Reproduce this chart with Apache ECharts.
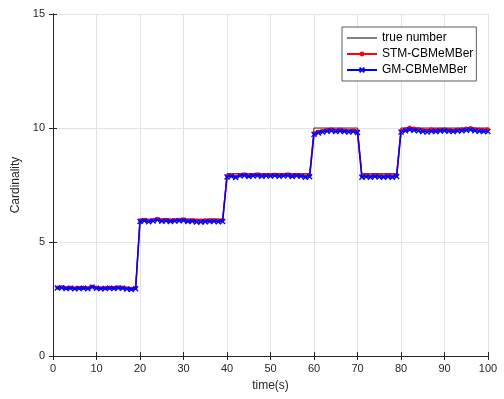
<!DOCTYPE html>
<html><head><meta charset="utf-8">
<script src="https://cdn.jsdelivr.net/npm/echarts@6/dist/echarts.min.js"></script>
<style>html,body{margin:0;padding:0;background:#fff}#c{width:504px;height:399px}</style>
</head><body><div id="c"></div>
<script>
const timeSteps = Array.from({length:100},(_,i)=>i+1);
const trueNumber = [
 3,3,3,3,3,3,3,3,3,3,3,3,3,3,3,3,3,3,3,
 6,6,6,6,6,6,6,6,6,6,6,6,6,6,6,6,6,6,6,6,
 8,8,8,8,8,8,8,8,8,8,8,8,8,8,8,8,8,8,8,8,
 10,10,10,10,10,10,10,10,10,10,10,
 8,8,8,8,8,8,8,8,8,
 10,10,10,10,10,10,10,10,10,10,10,10,10,10,10,10,10,10,10,10,10];
const stmCBMeMBer = [
 3.0,3.02,2.98,3.0,2.97,2.99,3.0,2.98,3.05,3.0,2.97,2.98,3.0,2.99,3.01,3.0,2.97,2.95,2.98,
 5.95,5.98,5.93,5.97,6.02,5.96,5.98,5.95,5.97,5.98,6.0,5.95,5.96,5.94,5.93,5.95,5.97,5.96,5.95,5.96,
 7.9,7.93,7.88,7.95,7.97,7.92,7.95,7.97,7.93,7.95,7.94,7.96,7.93,7.95,7.97,7.92,7.95,7.93,7.9,7.92,
 9.78,9.85,9.88,9.92,9.95,9.9,9.93,9.9,9.88,9.9,9.87,
 7.9,7.92,7.9,7.93,7.91,7.9,7.92,7.9,7.93,
 9.88,9.95,10.02,9.98,9.96,9.92,9.9,9.94,9.92,9.93,9.95,9.92,9.9,9.93,9.94,9.98,10.0,9.95,9.93,9.92,9.94];
const gmCBMeMBer = [
 2.98,2.99,2.96,2.97,2.95,2.96,2.97,2.95,3.02,2.97,2.95,2.96,2.97,2.96,2.98,2.97,2.94,2.92,2.95,
 5.9,5.93,5.89,5.92,5.96,5.91,5.93,5.9,5.92,5.93,5.94,5.9,5.91,5.88,5.87,5.89,5.9,5.91,5.89,5.9,
 7.85,7.88,7.83,7.9,7.92,7.87,7.9,7.92,7.88,7.9,7.89,7.91,7.88,7.9,7.92,7.87,7.9,7.88,7.84,7.86,
 9.72,9.78,9.82,9.86,9.88,9.84,9.87,9.85,9.82,9.84,9.8,
 7.84,7.86,7.84,7.87,7.85,7.84,7.86,7.84,7.87,
 9.82,9.88,9.92,9.9,9.88,9.85,9.82,9.86,9.85,9.87,9.88,9.86,9.84,9.87,9.88,9.9,9.92,9.88,9.86,9.85,9.84];
const seriesNames = ['true number','STM-CBMeMBer','GM-CBMeMBer'];

const pair = arr => timeSteps.map((t,i)=>[t,arr[i]]);
const font = 'Liberation Sans, Arial, sans-serif';
const axColor = '#262626';
const chart = echarts.init(document.getElementById('c'), null, {renderer:'canvas'});
const xBase = {type:'value',min:0,max:100,interval:10,
  axisLine:{lineStyle:{color:axColor,width:1}},
  axisTick:{inside:true,length:4,lineStyle:{color:axColor}}};
const yBase = {type:'value',min:0,max:15,interval:5,
  axisLine:{lineStyle:{color:axColor,width:1}},
  axisTick:{inside:true,length:4,lineStyle:{color:axColor}}};
chart.setOption({
  animation:false,
  backgroundColor:'#fff',
  grid:{left:53,right:16,top:14,bottom:43,containLabel:false},
  legend:{
    data:[{name:seriesNames[0],icon:'path://M0,0L30,0L30,1L0,1Z',itemStyle:{color:'#000'}},
          {name:seriesNames[1]},{name:seriesNames[2]}],
    orient:'vertical', left:342, top:27,
    itemWidth:30, itemHeight:6, itemGap:4,
    padding:[5,3,5,4],
    borderColor:'#333', borderWidth:0.8, backgroundColor:'#fff',
    textStyle:{fontFamily:font,fontSize:12,color:'#000'}
  },
  xAxis:[
    Object.assign({}, xBase, {position:'bottom', name:'time(s)', nameLocation:'middle', nameGap:24,
      nameTextStyle:{fontFamily:font,fontSize:12,color:axColor},
      axisLabel:{fontFamily:font,fontSize:11,color:axColor,margin:7},
      splitLine:{show:true,lineStyle:{color:'#e3e3e3',width:1}}}),
    Object.assign({}, xBase, {position:'top', axisLabel:{show:false}, splitLine:{show:false}})
  ],
  yAxis:[
    Object.assign({}, yBase, {position:'left', name:'Cardinality', nameLocation:'middle', nameGap:19,
      nameTextStyle:{fontFamily:font,fontSize:12,color:axColor},
      axisLabel:{fontFamily:font,fontSize:11,color:axColor,margin:8},
      splitLine:{show:true,lineStyle:{color:'#e3e3e3',width:1}}}),
    Object.assign({}, yBase, {position:'right', axisLabel:{show:false}, splitLine:{show:false}})
  ],
  series:[
    {name:seriesNames[0],type:'line',data:pair(trueNumber),showSymbol:false,symbol:'none',
     lineStyle:{color:'#000',width:0.8},itemStyle:{color:'#000'},z:2},
    {name:seriesNames[1],type:'line',data:pair(stmCBMeMBer),symbol:'circle',symbolSize:4,showAllSymbol:true,
     lineStyle:{color:'#ff0000',width:1.5},itemStyle:{color:'#ff0000'},z:3},
    {name:seriesNames[2],type:'line',data:pair(gmCBMeMBer),symbol:'path://M0,0L10,10M10,0L0,10',symbolSize:5,showAllSymbol:true,
     lineStyle:{color:'#0000ff',width:1.5},itemStyle:{color:'#0000ff',borderColor:'#0000ff',borderWidth:1.3},z:4}
  ]
});
</script></body></html>
